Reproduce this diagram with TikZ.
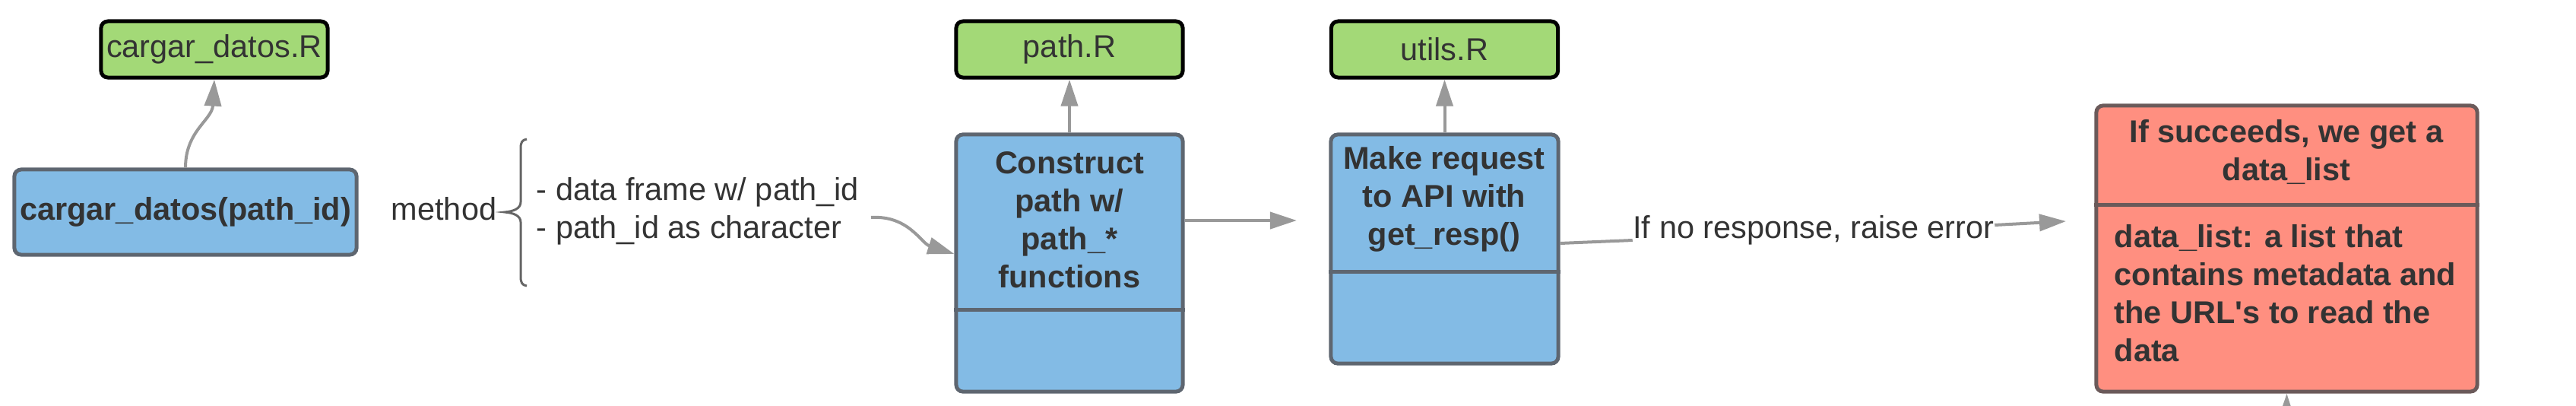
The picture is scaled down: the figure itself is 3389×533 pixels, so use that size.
\documentclass[tikz,border=0pt]{standalone}
\usepackage{fontspec}
\setmainfont{Liberation Sans}
\usetikzlibrary{arrows.meta}
\definecolor{bfill}{HTML}{83BBE5}
\definecolor{bdraw}{HTML}{5E6670}
\definecolor{gfill}{HTML}{A3D977}
\definecolor{rfill}{HTML}{FF8F80}
\definecolor{rdraw}{HTML}{6B5A5A}
\definecolor{txt}{HTML}{333333}
\definecolor{arr}{HTML}{999999}
\definecolor{brc}{HTML}{666666}
\begin{document}
\begin{tikzpicture}[x=0.01cm,y=-0.01cm,
  font=\fontsize{11.8}{14.2}\selectfont,
  filebox/.style={draw=black,fill=gfill,line width=0.05cm,rounded corners=0.09cm,minimum width=2.98cm,minimum height=0.74cm,inner sep=0pt,text=txt},
  funbox/.style={draw=bdraw,fill=bfill,line width=0.05cm,rounded corners=0.09cm,inner sep=0pt},
  resbox/.style={draw=rdraw,fill=rfill,line width=0.05cm,rounded corners=0.09cm,inner sep=0pt},
  btxt/.style={font=\fontsize{11.8}{14.2}\selectfont\bfseries,text=txt,align=center,inner sep=0pt},
  conn/.style={draw=arr,line width=0.04cm,-{Triangle[length=0.35cm,width=0.22cm]}},
  plainline/.style={draw=arr,line width=0.04cm},
  divline/.style={line width=0.05cm},
  plaintxt/.style={text=txt,inner sep=0pt},
]
\useasboundingbox (0,0) rectangle (3389,533);

% file boxes
\node[filebox] (cfile) at (282,65) {cargar\_datos.R};
\node[filebox] (pfile) at (1407,65) {path.R};
\node[filebox] (ufile) at (1900.5,65) {utils.R};

% cargar_datos(path_id)
\node[funbox,minimum width=4.50cm,minimum height=1.12cm,btxt] (cfun) at (244,279) {cargar\_datos(path\_id)};

% method + brace + list
\node[plaintxt] (method) at (584,275) {method};
\draw[brc,line width=0.03cm] (693,183) .. controls (687,184) and (685,187) .. (685,195) -- (685,266)
  .. controls (685,274) and (676,278) .. (664,279)
  .. controls (676,280) and (685,284) .. (685,292) -- (685,364)
  .. controls (685,372) and (687,375) .. (693,376);
\node[plaintxt,align=left,anchor=west] (list) at (705,278) {- data frame w/ path\_id\\- path\_id as character};

% Construct box
\node[funbox,minimum width=2.98cm,minimum height=3.38cm] (cons) at (1407,346) {};
\coordinate (consdiv) at (1407,407);
\draw[bdraw,divline] (cons.west |- consdiv) -- (cons.east |- consdiv);
\node[btxt] (constxt) at (1407,289) {Construct\\path w/\\path\_*\\functions};

% Make request box
\node[funbox,minimum width=2.99cm,minimum height=3.01cm] (make) at (1900.5,327.5) {};
\coordinate (makediv) at (1900,357);
\draw[bdraw,divline] (make.west |- makediv) -- (make.east |- makediv);
\node[btxt] (maketxt) at (1900,262) {Make request\\to API with\\get\_resp()};

% Result box
\node[resbox,minimum width=5.01cm,minimum height=3.76cm] (res) at (3008.5,327) {};
\coordinate (resdiv) at (3008,269);
\draw[rdraw,divline] (res.west |- resdiv) -- (res.east |- resdiv);
\node[btxt] (reshead) at (3008,200) {If succeeds, we get a\\data\_list};
\node[btxt,align=left,anchor=west] (resbody) at (2781,386) {data\_list: a list that\\contains metadata and\\the URL\textquotesingle s to read the\\data};

% connectors
\draw[conn] (cfun.north) .. controls (244,172) and (279,158) .. (cfile.south);
\draw[conn] (cons.north) -- (pfile.south);
\draw[conn] (make.north) -- (ufile.south);

\coordinate (c0) at (1146,286);
\coordinate (c1) at (1256,334);
\draw[conn] (c0) .. controls (1195,283) and (1212,320) .. (cons.west |- c1);

\coordinate (a1) at (1706,290);
\draw[conn] (cons.east |- a1) -- (a1);

\node[plaintxt] (err) at (2386,303) {If no response, raise error};
\coordinate (e0) at (2050,320);
\draw[plainline] (make.east |- e0) -- ([yshift=-0.13cm]err.west);
\coordinate (e1) at (2718,291);
\draw[conn] ([yshift=0.07cm]err.east) -- (e1);

\coordinate (b0) at (3008,575);
\draw[conn] (b0) -- (res.south);
\end{tikzpicture}
\end{document}
